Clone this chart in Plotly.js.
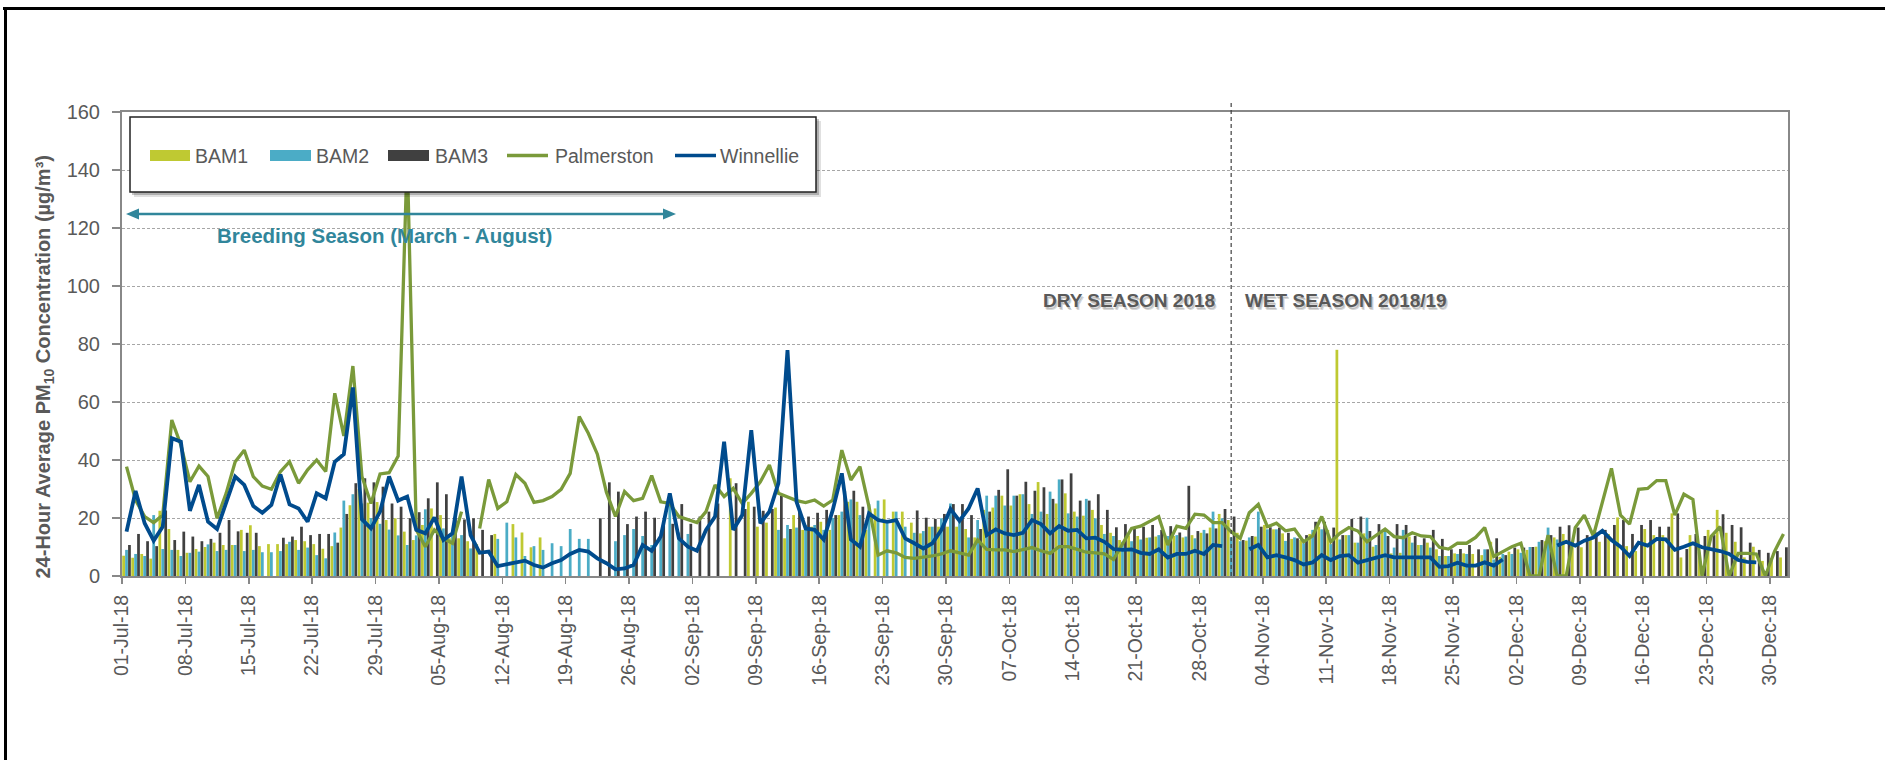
<!DOCTYPE html>
<html>
<head>
<meta charset="utf-8">
<script src="https://cdn.plot.ly/plotly-3.0.1.min.js"></script>
<style>
html,body{margin:0;padding:0;background:#fff;overflow:hidden;}
#chart{width:1885px;height:760px;}
</style>
</head>
<body>
<div id="chart"></div>
<script>
// ---------- DATA ----------
const startDate = '2018-07-01';
const nDays = 184;
const seriesNames = ['BAM1', 'BAM2', 'BAM3', 'Palmerston', 'Winnellie'];
const xTickFormat = '%d-%b-%y';

const bam1 = [
 7, 6.3, 7.6, 6, 22.5, 16.2, 9, 8, 9.3, 10,
 11.5, 10.7, 10.7, 15.9, 17.5, 10.3, 11, 11, 11, 12.4,
 12, 11, 9.4, 10.3, 16.7, 24.4, 30, 25.3, 25.5, 19.3,
 19.9, 15.3, 12.4, 17.6, 23.3, 21, 13, 13, 12, 11,
 null, 14.5, null, 17.9, 15, 9.9, 13.3, null, null, null,
 null, null, null, null, null, null, null, null, null, null,
 null, null, null, null, null, null, null, 33.7, null, 25.6,
 17, 18.4, 23.6, 13, 21, 15.9, 17, 18.7, 15.9, 21,
 25.6, 25.6, 15.9, 23.3, 26.4, 22.2, 22.2, 18.4, 14.7, 17,
 17, 17, 17, 16.2, 13.3, 22.8, 23.6, 27.7, 24.3, 28.2,
 24.8, 32.4, 21.4, 25, 28.5, 22.2, 20.8, 22.8, 17.6, 14.9,
 12.4, 14, 13.8, 13.2, 13.6, 14.1, 13.8, 13.3, 14.1, 14.9,
 16.7, 21.4, 19.3, 14.9, 12.2, 13.6, 17.6, 16.1, 14.7, 12.8,
 12.4, 14.5, 17, 15.9, 78, 14.1, 11.5, 14.7, 10.1, 15.3,
 7.8, 8, 13.6, 10.7, 11.5, 9.2, 6.9, 7.8, 7.8, 7.6,
 7.2, 11.8, 6.6, 8.4, 9.2, 9, 10.1, 12, 13.3, 14.5,
 9.9, 9.9, 12.4, 11.8, 14.5, 20.2, 10.3, 8.6, 16.2, 14.1,
 14.1, 21.6, 6.4, 14.1, 8.4, 15.9, 22.8, 14.9, 11.8, 6.4,
 10.1, 5.2, 6.1, 6.4
];

const bam2 = [
 9, 7.6, 6.9, 21, 9.3, 9, 6.9, 8, 8.4, 10.9,
 8.6, 9, 10.7, 8.6, 9, 8.2, 8.2, 8.6, 11.8, 9,
 9.8, 7.2, 6.1, 15, 26, 28.2, 25, 20, 18, 16,
 14, 10.7, 14, 23, null, 16.4, 14, 14.1, 9.5, null,
 null, 12.8, 18.4, 13.3, 6.9, 10.3, 9, 11.3, 10.3, 16.2,
 12.8, 12.8, null, null, 12, 14.1, 16.2, 13.8, 10.7, 13,
 25.3, 15, 14.5, null, null, null, null, null, null, null,
 null, null, 15.9, 17.6, 16.7, 17.6, 17.6, 15.9, 20, 22.2,
 26.4, 21, 24.8, 26, 18.2, 22.2, 17, 14.9, 15.5, 17,
 19.9, 25, 20, 13.3, 19.3, 27.7, 27.7, 24.3, 27.7, 28.2,
 21.4, 22.2, 29.1, 33.3, 21.6, 20.5, 26.6, 19.9, 14.5, 13.8,
 11.8, 12, 12.6, 13.3, 14.1, 13.8, 14.1, 13.6, 13, 15.9,
 22.2, 19.9, 13.3, 12, 13.3, 22.2, 16.1, 16.1, 12.1, 13.3,
 11.3, 15.9, 16.1, 11, 12.6, 14.1, 11.5, 20.1, 10.7, 15.3,
 9.8, 15.9, 11.5, 10.7, 9.8, 6.9, 6.9, 7.6, 7.6, null,
 9.2, 5.7, 7.6, 7.6, 8, 10, 11.8, 16.7, 12.6, null,
 null, null, null, null, null, null, null, null, null, null,
 null, null, null, null, null, null, null, null, null, null,
 null, null, null, null
];

const bam3 = [
 10.7, 14.5, 12, 10.3, 22.6, 12.4, 15.3, 13.6, 12, 12.8,
 14.9, 19.3, 15.4, 14.9, 14.9, null, null, 13.2, 13.6, 17,
 14.1, 14.5, 14.5, 11.5, 21.4, 32, 33.7, 32.3, 30.8, 25,
 23.9, 19.9, 22, 26.8, 32.3, 28.2, 20, 19.5, 19.9, 15.9,
 14.1, null, null, null, null, null, null, null, null, null,
 null, null, 19.9, 32.3, 29.1, 17.9, 20.5, 22.2, 20.1, 19,
 18, 24.8, 18, 20.5, 22.2, 25, null, 32, 23.1, 23.9,
 22.5, 23.1, 27.6, 16.2, 22.8, 20.5, 21.8, 22.8, 21, 29.4,
 29.4, 23.9, null, null, null, null, null, 22.6, 20.1, 19.7,
 21.4, 24.8, 24.8, 21, 16.2, 22.2, 29.7, 36.8, 27.7, 32.5,
 29.4, 30.6, 26.6, 33.3, 35.4, 26, 26, 28.2, 22.8, 16.8,
 17.9, 16.2, 17, 17.6, 15.9, 17.2, 15, 31.1, 15.5, 14.7,
 16.4, 23.1, 20.5, 12.4, 13.8, 17, 16.8, 16.7, 14.9, 13,
 14.1, 18.7, 18.7, 16.7, 14.1, 19.7, 20.5, 15.5, 17.9, 13.8,
 17.9, 17.6, 13.8, 13, 15.9, 12.8, 9.2, 9.3, 10.7, 9.2,
 9.2, 13, 7.2, 9.8, 9.8, 10, 12.4, 14.1, 17, 17.5,
 16.7, 14.1, 15, 15.9, 17.6, 19.3, 14.5, 17.6, 19.3, 17,
 17, 21.6, 9.3, 14.5, 13.8, 14.1, 21.3, 17.6, 16.8, 11.5,
 9, 8, 8.6, 9.9
];

const palmerston = [
 37.7, 26.2, 20.5, 18.4, 21, 53.8, 45.2, 32.5, 37.9, 34.3,
 19.9, 28.5, 39.4, 43.4, 34.3, 31, 29.9, 36, 39.4, 32,
 36.6, 40, 36, 63, 48.3, 72.4, 34.3, 25, 35.2, 35.6,
 41.4, 145, 15.9, 10.1, 15.9, 13, 11.3, 22.2, null, 16.4,
 33.3, 23.3, 25.6, 35, 32, 25.4, 26, 27.4, 29.9, 35.4,
 55, 49.2, 42, 28.9, 20.5, 29.1, 26, 26.8, 34.6, 25.6,
 25, 20.5, 19.5, 18.4, 22.2, 31.4, 27.4, 30.2, 25, 28.5,
 32.5, 38.3, 28.5, 27.4, 26, 25.3, 26.2, 24.1, 26.2, 43.4,
 33.1, 37.7, 23.9, 7.2, 8.7, 8, 6.4, 6.1, 6.4, 6.9,
 7.6, 8.7, 8, 7.2, 12.4, 9.2, 9, 9, 8.4, 9,
 9.8, 8.7, 7.8, 10.1, 10.1, 9.2, 8.2, 8, 7.6, 5.7,
 11.3, 16.4, 17.2, 18.7, 20.5, 10.7, 17.2, 16.4, 21.3, 21,
 18.4, 18.4, 15.3, 13, 21.8, 24.7, 17, 18.2, 15.6, 16.2,
 11.8, 13.8, 20.5, 11.8, 14.7, 16.7, 15.5, 11.8, 14.1, 16.2,
 13.6, 13.2, 14.9, 13.8, 13.6, 9.9, 9.3, 11.3, 11.3, 13.3,
 16.7, 6.7, 8.4, 10.1, 11.3, 0, 0, 14.1, 0, 0,
 16.7, 21, 13.8, 26, 37.1, 21, 17.9, 29.9, 30.2, 32.9,
 32.9, 21, 28.2, 26.4, 0, 13.6, 17, 0, 7.8, 7.8,
 7.6, 0, 8.4, 14.5
];

const winnellie = [
 15.3, 29.3, 18.2, 12.2, 17, 47.5, 46.3, 22.5, 31.4, 18.7,
 16.2, 25, 34.3, 31.4, 24.1, 21.8, 24.5, 35, 24.7, 23.3,
 18.7, 28.5, 26.8, 39.4, 42, 65, 19.5, 16.4, 22.2, 34.3,
 26, 27.4, 15.9, 14.7, 20.2, 12.4, 14.7, 34.3, 14.1, 8,
 8.4, 3.4, 4, 4.9, 5.3, 3.8, 2.9, 4.4, 5.5, 7.6,
 9, 8.4, 6.1, 4.4, 2.3, 2.6, 3.8, 10.7, 8.7, 13.6,
 28.5, 13, 10.1, 8.7, 15.9, 20.5, 46.3, 15.9, 21, 50.3,
 18.2, 22.2, 32, 77.9, 25.6, 16.4, 15.9, 12.6, 22.8, 35.4,
 12.6, 10.1, 21.6, 19.3, 18.7, 19.3, 13, 11.3, 9.5, 11.3,
 15.9, 23.1, 19, 23.3, 30.2, 14.1, 16.1, 14.7, 14.1, 14.9,
 19.3, 17.9, 14.7, 17.2, 15.6, 15.9, 13, 13.2, 11.8, 9.3,
 9, 9.2, 8, 7.6, 9.2, 6.4, 7.6, 7.6, 8.7, 7.6,
 10.7, 10.3, null, null, 9.2, 10.7, 6.4, 7.2, 6.4, 5.5,
 4, 4.7, 7.2, 5.5, 6.9, 7.2, 4.6, 5.5, 6.1, 7.2,
 6.4, 6.4, 6.7, 6.4, 6.4, 3.2, 3.4, 4.6, 3.6, 3.6,
 4.7, 3.6, 5.7, null, null, null, null, null, 10.5, 11.8,
 10.5, 12.2, 13.3, 15.6, 12.4, 10.1, 6.9, 11.5, 10.5, 12.8,
 12.6, 9, 10.1, 11.3, 9.9, 9.3, 8.6, 7.6, 5.5, 4.9,
 4.7, null, null, null
];

const yTitle = '<b>24-Hour Average PM<sub>10</sub> Concentration (µg/m³)</b>';
const breedingLabel = '<b>Breeding Season (March - August)</b>';
const dryLabel = '<b>DRY SEASON 2018</b>';
const wetLabel = '<b>WET SEASON 2018/19</b>';
const seasonSplit = '2018-10-31 12:00';

// ---------- dates (category axis) ----------
const dates = [];
{
  const d0 = new Date(startDate + 'T00:00:00Z');
  for (let i = 0; i < nDays; i++) {
    const d = new Date(d0.getTime() + i * 86400000);
    dates.push(d.toISOString().slice(0, 10));
  }
}

// ---------- styles ----------
const FONT = 'Liberation Sans, Arial, sans-serif';
const GREY = '#595959';
const C_BAM1 = '#bfc932', C_BAM2 = '#4bacc6', C_BAM3 = '#404040';
const C_PALM = '#7a9a3a', C_WIN = '#004b8d', C_TEAL = '#31869b';
const DAY = 86400000;

const common = {x: dates, xperiod: DAY, xperiodalignment: 'middle', hoverinfo: 'skip', showlegend: false};
const traces = [
  Object.assign({type: 'bar', name: seriesNames[0], y: bam1, marker: {color: C_BAM1, line: {width: 0}}}, common),
  Object.assign({type: 'bar', name: seriesNames[1], y: bam2, marker: {color: C_BAM2, line: {width: 0}}}, common),
  Object.assign({type: 'bar', name: seriesNames[2], y: bam3, marker: {color: C_BAM3, line: {width: 0}}}, common),
  Object.assign({type: 'scatter', mode: 'lines', name: seriesNames[3], y: palmerston, line: {color: C_PALM, width: 3.3}}, common),
  Object.assign({type: 'scatter', mode: 'lines', name: seriesNames[4], y: winnellie, line: {color: C_WIN, width: 3.8}}, common)
];

// pixel helpers for decorative layout items (plot area: x 122..1788, y 112..576)
const ML = 122, MR = 97, MT = 112, MB = 184, W = 1885, H = 760;
const PW = W - ML - MR, PH = H - MT - MB;
const PX = x => (x - ML) / PW;
const PY = y => (MT + PH - y) / PH;
const path = pts => 'M' + pts.map(p => PX(p[0]) + ',' + PY(p[1])).join('L') + 'Z';

const shapes = [
  // outer frame (top and left edges)
  {type: 'line', xref: 'paper', yref: 'paper', x0: PX(3), x1: PX(1900), y0: PY(8.5), y1: PY(8.5), line: {color: '#000', width: 3}, layer: 'above'},
  {type: 'line', xref: 'paper', yref: 'paper', x0: PX(5.5), x1: PX(5.5), y0: PY(7), y1: PY(780), line: {color: '#000', width: 3}, layer: 'above'},
  // season split
  {type: 'line', xref: 'x', yref: 'paper', x0: seasonSplit, x1: seasonSplit, y0: 0, y1: PY(103), line: {color: '#404040', width: 1.2, dash: '4px,3px'}, layer: 'above'},
  // breeding season double arrow
  {type: 'line', xref: 'paper', yref: 'paper', x0: PX(134), x1: PX(668), y0: PY(214), y1: PY(214), line: {color: C_TEAL, width: 2.5}, layer: 'above'},
  {type: 'path', xref: 'paper', yref: 'paper', path: path([[126, 214], [139, 208.5], [139, 219.5]]), fillcolor: C_TEAL, line: {width: 0}, layer: 'above'},
  {type: 'path', xref: 'paper', yref: 'paper', path: path([[676, 214], [663, 208.5], [663, 219.5]]), fillcolor: C_TEAL, line: {width: 0}, layer: 'above'},
  // legend box with shadow
  {type: 'rect', xref: 'paper', yref: 'paper', x0: PX(134), x1: PX(821), y0: PY(121), y1: PY(197), fillcolor: 'rgba(0,0,0,0.12)', line: {width: 0}, layer: 'above'},
  {type: 'rect', xref: 'paper', yref: 'paper', x0: PX(132), x1: PX(819), y0: PY(119), y1: PY(195), fillcolor: 'rgba(0,0,0,0.22)', line: {width: 0}, layer: 'above'},
  {type: 'rect', xref: 'paper', yref: 'paper', x0: PX(130), x1: PX(816), y0: PY(117), y1: PY(192), fillcolor: '#ffffff', line: {color: '#222', width: 1.5}, layer: 'above'},
  // legend swatches
  {type: 'rect', xref: 'paper', yref: 'paper', x0: PX(150), x1: PX(190), y0: PY(150), y1: PY(161), fillcolor: C_BAM1, line: {width: 0}, layer: 'above'},
  {type: 'rect', xref: 'paper', yref: 'paper', x0: PX(270), x1: PX(311), y0: PY(150), y1: PY(161), fillcolor: C_BAM2, line: {width: 0}, layer: 'above'},
  {type: 'rect', xref: 'paper', yref: 'paper', x0: PX(388), x1: PX(429), y0: PY(150), y1: PY(161), fillcolor: C_BAM3, line: {width: 0}, layer: 'above'},
  {type: 'line', xref: 'paper', yref: 'paper', x0: PX(507), x1: PX(548), y0: PY(155.5), y1: PY(155.5), line: {color: C_PALM, width: 3.5}, layer: 'above'},
  {type: 'line', xref: 'paper', yref: 'paper', x0: PX(675), x1: PX(716), y0: PY(155.5), y1: PY(155.5), line: {color: C_WIN, width: 3.5}, layer: 'above'}
];

const legText = (t, x) => ({xref: 'paper', yref: 'paper', x: PX(x), y: PY(155.5), xanchor: 'left', yanchor: 'middle', text: t, showarrow: false, font: {family: FONT, size: 19.5, color: GREY}});
const shadowed = (t, anchor, shift) => [
  {xref: 'x', yref: 'y', x: seasonSplit, y: 95, xanchor: anchor, yanchor: 'middle', xshift: shift + 2, yshift: -3, text: t, showarrow: false, font: {family: FONT, size: 19, color: 'rgba(0,0,0,0.16)'}},
  {xref: 'x', yref: 'y', x: seasonSplit, y: 95, xanchor: anchor, yanchor: 'middle', xshift: shift + 1, yshift: -2, text: t, showarrow: false, font: {family: FONT, size: 19, color: 'rgba(0,0,0,0.14)'}},
  {xref: 'x', yref: 'y', x: seasonSplit, y: 95, xanchor: anchor, yanchor: 'middle', xshift: shift, text: t, showarrow: false, font: {family: FONT, size: 19, color: GREY}}
];

const annotations = [
  legText(seriesNames[0], 193), legText(seriesNames[1], 314), legText(seriesNames[2], 433),
  legText(seriesNames[3], 553), legText(seriesNames[4], 718),
  {xref: 'x', yref: 'y', x: '2018-07-30', y: 117.5, xanchor: 'center', yanchor: 'middle', text: breedingLabel, showarrow: false, font: {family: FONT, size: 20.5, color: C_TEAL}},
  ...shadowed(dryLabel, 'right', -14),
  ...shadowed(wetLabel, 'left', 12),
  // y axis title
  {xref: 'paper', yref: 'paper', x: PX(43.5), y: PY(367), xanchor: 'center', yanchor: 'middle', textangle: -90, text: yTitle, showarrow: false, font: {family: FONT, size: 20, color: GREY}}
];

const layout = {
  width: W, height: H,
  margin: {l: ML, r: MR, t: MT, b: MB, pad: 0},
  paper_bgcolor: '#fff', plot_bgcolor: '#fff',
  barmode: 'group', bargap: 0.03, bargroupgap: 0.06,
  font: {family: FONT, color: GREY},
  xaxis: {
    type: 'date', range: [startDate, '2019-01-01'], autorange: false,
    tick0: startDate, dtick: 7 * DAY, tickformat: xTickFormat, tickangle: -90,
    ticks: 'outside', ticklen: 6, tickwidth: 1.5, tickcolor: '#888',
    tickfont: {family: FONT, size: 19.5, color: GREY}, ticklabelstandoff: 3,
    showline: true, linecolor: '#888', linewidth: 2, mirror: true, showgrid: false, zeroline: false
  },
  yaxis: {
    range: [0, 160], autorange: false, dtick: 20,
    ticks: 'outside', ticklen: 8, tickwidth: 1.5, tickcolor: '#888',
    tickfont: {family: FONT, size: 20, color: GREY}, ticklabelstandoff: 8,
    showgrid: true, gridcolor: '#a6a6a6', gridwidth: 1, griddash: '3px,2px',
    showline: true, linecolor: '#888', linewidth: 2, mirror: true, zeroline: false
  },
  shapes: shapes,
  annotations: annotations
};

Plotly.newPlot('chart', traces, layout, {staticPlot: true, displayModeBar: false}).then(() => {
  // drop empty placeholder title elements that Plotly leaves behind
  document.querySelectorAll('text.xtitle, text.ytitle, text.gtitle').forEach(el => {
    if (!el.textContent.trim()) el.remove();
  });
});
</script>
</body>
</html>
